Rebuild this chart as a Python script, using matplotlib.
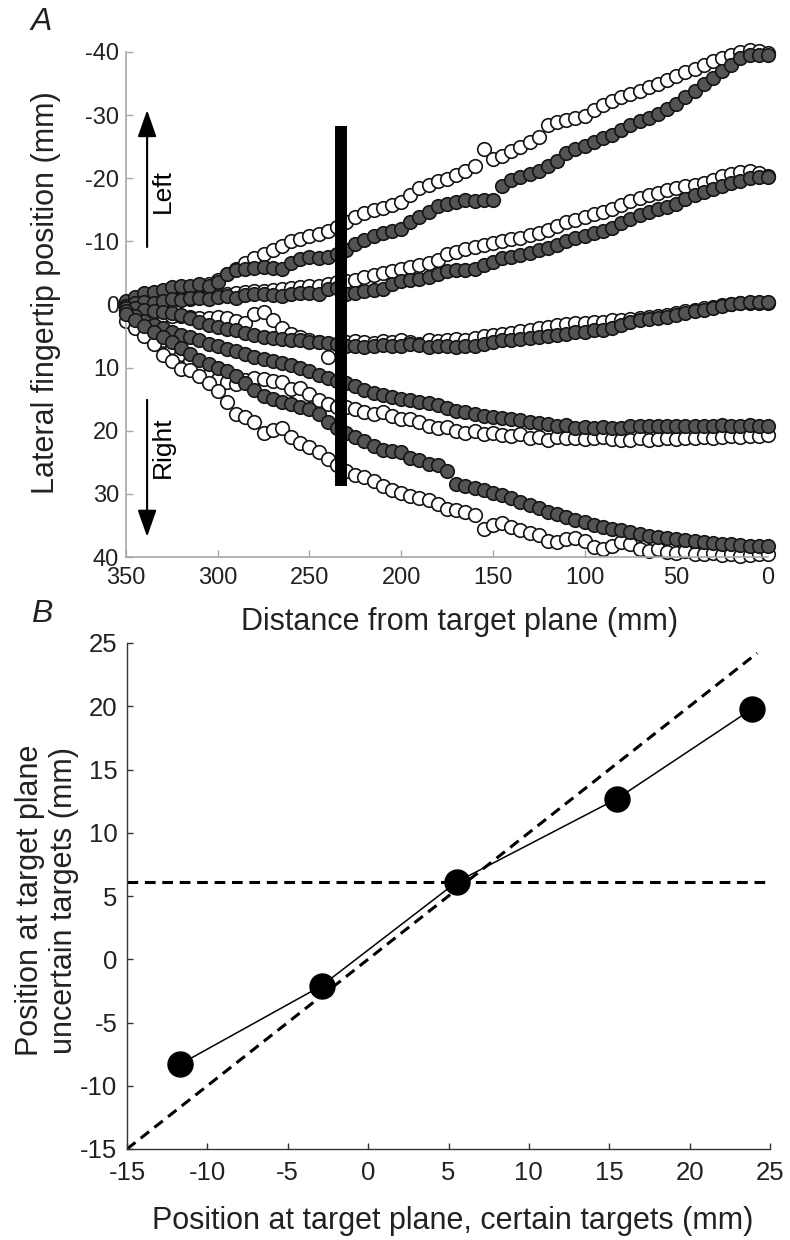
import numpy as np
import matplotlib
matplotlib.use('Agg')
import matplotlib.pyplot as plt

plt.rcParams['font.family'] = ['Liberation Sans', 'DejaVu Sans']
plt.rcParams['axes.unicode_minus'] = False

# ---- panel A: lateral fingertip position vs distance (every 5 mm, 350 -> 0)
dist = [350, 345, 340, 335, 330, 325, 320, 315, 310, 305, 300,
        295, 290, 285, 280, 275, 270, 265, 260, 255, 250,
        245, 240, 235, 230, 225, 220, 215, 210, 205, 200,
        195, 190, 185, 180, 175, 170, 165, 160, 155, 150,
        145, 140, 135, 130, 125, 120, 115, 110, 105, 100,
        95, 90, 85, 80, 75, 70, 65, 60, 55, 50,
        45, 40, 35, 30, 25, 20, 15, 10, 5, 0]

# certain targets (filled)
fill1 = [-0.5, -1.2, -1.8, -2.0, -2.3, -2.7, -3.0, -3.0, -3.2, -3.0, -3.5,
         -4.8, -5.5, -5.6, -5.8, -6.0, -5.8, -5.6, -6.5, -7.2, -7.5,
         -7.4, -7.6, -8.0, -8.7, -9.6, -10.2, -10.8, -11.4, -11.6, -12.0,
         -13.0, -13.8, -14.6, -15.6, -16.0, -16.3, -16.6, -16.4, -16.5, -16.6,
         -18.8, -19.8, -20.2, -20.6, -21.2, -22.0, -22.8, -24.0, -24.6, -25.1,
         -25.8, -26.3, -26.9, -27.7, -28.5, -29.1, -29.6, -30.2, -30.9, -31.8,
         -32.8, -33.8, -34.9, -35.9, -37.0, -38.0, -39.0, -39.6, -39.6, -39.5]
fill2 = [0.2, -0.2, -0.4, -0.3, -0.6, -0.8, -0.7, -1.0, -1.1, -0.9, -1.2,
         -1.3, -1.1, -1.5, -1.6, -1.7, -1.5, -1.3, -1.6, -1.8, -1.9,
         -1.7, -2.4, -2.6, -1.6, -1.9, -2.2, -2.3, -2.5, -3.2, -3.8,
         -3.9, -4.1, -4.4, -4.8, -5.3, -5.4, -5.5, -5.6, -6.2, -6.8,
         -7.3, -7.6, -7.9, -8.2, -8.6, -9.0, -9.5, -10.1, -10.5, -10.9,
         -11.3, -11.7, -12.1, -12.9, -13.6, -14.2, -14.6, -15.1, -15.5, -16.0,
         -16.7, -17.3, -17.8, -18.3, -18.8, -19.2, -19.6, -20.0, -20.2, -20.2]
fill3 = [0.6, 0.5, 0.8, 1.0, 1.2, 1.4, 1.6, 2.2, 2.8, 3.2, 3.6,
         3.9, 4.1, 4.5, 4.8, 5.1, 5.3, 5.5, 5.6, 5.7, 5.9,
         6.0, 6.1, 6.3, 6.5, 6.6, 6.7, 6.6, 6.4, 6.6, 6.5,
         6.3, 6.4, 6.7, 6.6, 6.5, 6.7, 6.6, 6.5, 6.2, 5.9,
         5.7, 5.6, 5.5, 5.3, 5.2, 5.0, 4.8, 4.6, 4.4, 4.3,
         4.1, 4.0, 3.7, 3.3, 2.8, 2.5, 2.3, 2.1, 2.0, 1.7,
         1.3, 1.0, 0.8, 0.5, 0.2, -0.1, -0.3, -0.4, -0.4, -0.4]
fill4 = [1.0, 1.8, 2.6, 3.2, 3.8, 4.3, 4.8, 5.2, 5.7, 6.2, 6.6,
         7.0, 7.4, 7.8, 8.3, 8.7, 9.0, 9.2, 9.6, 10.0, 10.6,
         11.2, 11.7, 12.1, 12.5, 12.9, 13.6, 14.0, 14.3, 14.6, 15.0,
         15.1, 15.4, 15.6, 15.9, 16.4, 16.8, 17.1, 17.3, 17.6, 17.8,
         18.0, 18.1, 18.3, 18.6, 18.8, 19.0, 19.3, 19.1, 19.5, 19.4,
         19.6, 19.4, 19.5, 19.5, 19.2, 19.3, 19.2, 19.3, 19.2, 19.3,
         19.2, 19.3, 19.2, 19.2, 19.1, 19.2, 19.2, 19.1, 19.2, 19.2]
fill5 = [1.5, 2.5, 3.4, 4.3, 5.1, 6.0, 6.9, 7.8, 8.8, 9.4, 10.0,
         10.6, 11.4, 12.5, 13.6, 14.5, 15.0, 15.4, 15.8, 16.3, 16.6,
         17.3, 18.6, 19.6, 20.3, 21.0, 21.6, 22.4, 23.0, 23.2, 23.3,
         24.3, 24.6, 25.2, 25.5, 26.4, 28.4, 28.8, 29.1, 29.4, 29.8,
         30.2, 30.7, 31.3, 31.8, 32.3, 32.8, 33.2, 33.6, 34.1, 34.5,
         34.9, 35.2, 35.5, 35.8, 36.1, 36.3, 36.6, 36.8, 37.0, 37.2,
         37.3, 37.5, 37.6, 37.8, 37.9, 38.0, 38.1, 38.2, 38.3, 38.3]

# uncertain targets (open)
open1 = [0.3, -0.5, -1.0, -1.2, -1.6, -2.0, -2.3, -2.5, -2.8, -3.2, -3.9,
         -4.8, -5.6, -6.5, -7.3, -8.0, -8.6, -9.2, -10.0, -10.3, -10.8,
         -11.2, -11.6, -12.2, -13.0, -13.8, -14.5, -14.9, -15.3, -15.8, -16.3,
         -17.4, -18.5, -18.9, -19.5, -19.9, -20.5, -21.2, -21.9, -24.6, -23.0,
         -23.6, -24.3, -25.0, -25.8, -26.6, -28.4, -28.9, -29.2, -29.5, -29.9,
         -30.8, -31.6, -32.2, -32.8, -33.3, -33.8, -34.4, -35.0, -35.6, -36.2,
         -36.8, -37.3, -37.9, -38.5, -39.1, -39.6, -40.0, -40.3, -40.1, -39.8]
open2 = [0.8, 0.4, 0.2, -0.1, -0.3, -0.5, -0.8, -0.9, -1.2, -1.4, -1.5,
         -1.7, -1.9, -2.0, -2.1, -2.2, -2.3, -2.4, -2.6, -2.8, -2.9,
         -3.0, -3.3, -3.5, -3.7, -3.9, -4.3, -4.6, -5.0, -5.3, -5.6,
         -5.9, -6.3, -6.6, -7.0, -8.0, -8.3, -8.8, -9.1, -9.4, -9.7,
         -10.0, -10.3, -10.6, -11.0, -11.3, -11.8, -12.4, -13.0, -13.4, -13.8,
         -14.3, -14.6, -15.2, -15.8, -16.4, -16.9, -17.3, -17.7, -18.1, -18.4,
         -18.7, -19.0, -19.3, -19.8, -20.3, -20.7, -21.0, -21.2, -20.8, -20.3]
open3 = [1.0, 1.2, 1.3, 1.5, 1.6, 1.8, 1.9, 2.0, 2.1, 2.2, 2.0,
         2.1, 2.6, 2.9, 1.5, 1.2, 2.5, 3.8, 4.6, 5.2, 5.6,
         6.0, 8.3, 6.2, 6.0, 5.8, 5.9, 6.1, 5.8, 6.0, 5.7,
         5.9, 6.2, 5.6, 5.8, 5.7, 5.4, 5.6, 5.3, 5.0, 4.9,
         4.6, 4.5, 4.2, 4.0, 3.8, 3.5, 3.3, 3.1, 2.9, 2.9,
         2.8, 2.7, 2.5, 2.4, 2.3, 2.2, 2.0, 1.9, 1.6, 1.4,
         1.1, 0.8, 0.6, 0.4, 0.1, -0.1, -0.2, -0.3, -0.3, -0.3]
open4 = [1.5, 2.4, 3.4, 4.5, 5.6, 6.8, 7.8, 9.0, 10.3, 11.2, 11.8,
         12.3, 12.6, 12.0, 11.6, 11.8, 12.1, 12.3, 13.4, 13.2, 14.2,
         15.2, 15.8, 16.3, 16.2, 16.6, 17.0, 17.3, 17.0, 17.6, 18.2,
         18.1, 18.6, 19.3, 19.5, 19.4, 20.1, 20.4, 20.0, 20.5, 20.3,
         20.6, 20.9, 20.5, 21.2, 21.0, 21.4, 21.0, 21.2, 21.1, 21.3,
         21.2, 21.0, 21.3, 21.5, 21.4, 21.2, 21.5, 21.3, 21.2, 21.3,
         21.1, 21.2, 21.0, 21.1, 21.0, 20.9, 21.0, 20.8, 20.9, 20.7]
open5 = [2.6, 3.8, 5.0, 6.2, 8.0, 9.0, 10.2, 10.4, 11.3, 12.4, 13.7,
         15.5, 17.3, 17.8, 18.6, 20.3, 19.9, 19.5, 21.0, 22.0, 22.6,
         23.3, 24.5, 25.4, 26.4, 27.0, 27.3, 28.0, 28.7, 29.4, 29.8,
         30.3, 30.6, 30.9, 31.6, 32.4, 32.6, 32.8, 33.4, 35.6, 35.0,
         34.6, 35.2, 35.8, 36.2, 36.5, 37.5, 37.6, 37.2, 37.0, 37.4,
         38.4, 38.8, 38.2, 37.6, 38.0, 38.7, 39.0, 38.8, 39.2, 39.4,
         39.1, 39.5, 39.6, 39.4, 39.7, 39.6, 39.8, 39.7, 39.6, 39.5]

filled = [fill1, fill2, fill3, fill4, fill5]
opened = [open1, open2, open3, open4, open5]

bar_d = 233
bar_range = (-28.3, 28.75)

# ---- panel B: position at target plane
certain = [-11.7, -2.9, 5.5, 15.5, 23.9]
uncertain = [-8.3, -2.1, 6.1, 12.7, 19.8]
hline_y = 6.1
ident = [-15, 24.2]

txt = '#222222'
W, H = 790, 1240

fig = plt.figure(figsize=(7.9, 12.4), dpi=100)
axA = fig.add_axes([126 / W, 1 - 557 / H, 642 / W, 505 / H])
axB = fig.add_axes([127 / W, 1 - 1149 / H, 643 / W, 506 / H])

# panel A
for o in opened:
    axA.scatter(dist, o, s=95, facecolor='white', edgecolor='#151515',
                linewidth=1.2, clip_on=False, zorder=2)
for f in filled:
    axA.scatter(dist, f, s=95, facecolor='#545454', edgecolor='#151515',
                linewidth=1.2, clip_on=False, zorder=3)
axA.plot([bar_d, bar_d], bar_range, color='black', lw=8.6,
         solid_capstyle='butt', zorder=4)

arr = dict(arrowstyle='-|>,head_length=1.65,head_width=0.58',
           color='black', lw=1.5, shrinkA=0, shrinkB=0)
axA.annotate('', xy=(338.5, -30.8), xytext=(338.5, -9.1), arrowprops=arr)
axA.annotate('', xy=(338.5, 36.8), xytext=(338.5, 15.1), arrowprops=arr)
axA.text(329.8, -18, 'Left', rotation=90, ha='center', va='center',
         fontsize=19, color='black')
axA.text(329.8, 22.6, 'Right', rotation=90, ha='center', va='center',
         fontsize=19, color='black')

axA.set_xlim(350, 0)
axA.set_ylim(40, -40)
axA.set_xticks([350, 300, 250, 200, 150, 100, 50, 0])
axA.set_yticks([-40, -30, -20, -10, 0, 10, 20, 30, 40])
for s in ['top', 'right']:
    axA.spines[s].set_visible(False)
for s in ['left', 'bottom']:
    axA.spines[s].set_color('#a8a8a8')
    axA.spines[s].set_linewidth(1.2)
axA.tick_params(direction='in', length=5, width=1, color='#a8a8a8',
                labelsize=17, labelcolor=txt)
axA.tick_params(axis='x', pad=7)
axA.tick_params(axis='y', pad=5)

# panel B
axB.plot(ident, ident, color='black', lw=2.2, dashes=(3.5, 2.2), zorder=2)
axB.axhline(hline_y, color='black', lw=2.2, dashes=(3.5, 2.2), zorder=2)
axB.plot(certain, uncertain, color='black', lw=1.1, marker='o',
         markersize=18, markerfacecolor='black', zorder=3, clip_on=False)
axB.set_xlim(-15, 25)
axB.set_ylim(-15, 25)
axB.set_xticks(range(-15, 26, 5))
axB.set_yticks(range(-15, 26, 5))
for s in ['top', 'right']:
    axB.spines[s].set_visible(False)
for s in ['left', 'bottom']:
    axB.spines[s].set_color('#333333')
    axB.spines[s].set_linewidth(1.0)
axB.tick_params(direction='in', length=4, width=1, color='#333333',
                labelsize=18.5, labelcolor=txt)
axB.tick_params(axis='x', pad=9)
axB.tick_params(axis='y', pad=7)

# labels
fig.text(46 / W, 1 - 293 / H, 'Lateral fingertip position (mm)', rotation=90,
         ha='center', va='center', fontsize=22, color=txt)
fig.text(460 / W, 1 - 622 / H, 'Distance from target plane (mm)',
         ha='center', va='center', fontsize=22, color=txt)
fig.text(47 / W, 1 - 900 / H, 'Position at target plane\nuncertain targets (mm)',
         rotation=90, ha='center', va='center', multialignment='center',
         fontsize=22, color=txt, linespacing=1.2)
fig.text(453 / W, 1 - 1221 / H, 'Position at target plane, certain targets (mm)',
         ha='center', va='center', fontsize=22, color=txt)
fig.text(41 / W, 1 - 22 / H, 'A', style='italic', fontsize=23,
         ha='center', va='center', color=txt)
fig.text(42 / W, 1 - 614 / H, 'B', style='italic', fontsize=23,
         ha='center', va='center', color=txt)

fig.savefig('out.png', dpi=100)
